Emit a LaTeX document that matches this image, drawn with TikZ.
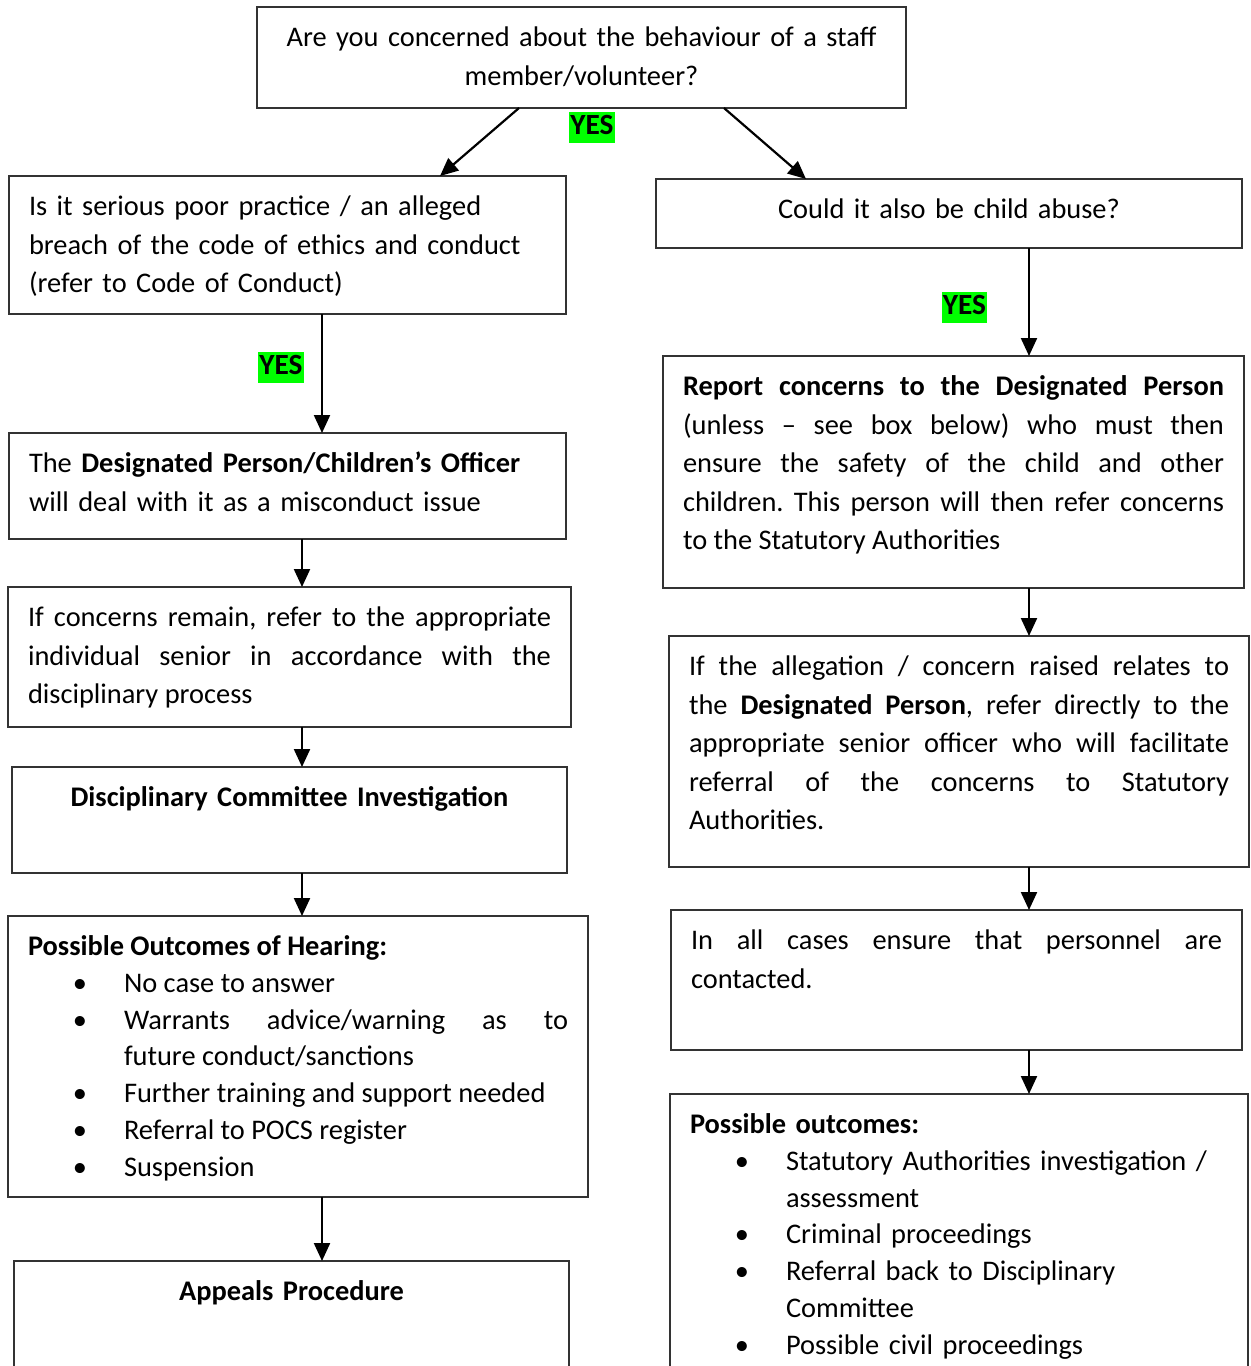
\documentclass[tikz,border=0pt]{standalone}
\usepackage{fontspec}
\setmainfont{Carlito}
\usepackage{enumitem}
\usetikzlibrary{arrows.meta}
\frenchspacing

\newcommand{\boxfont}{\fontsize{14.2}{19.3}\selectfont}
\newcommand{\listfont}{\fontsize{14.2}{18.4}\selectfont}

\tikzset{
  box/.style={draw=black!80, line width=0.8pt, anchor=north west, inner xsep=10pt,
    inner ysep=4pt, outer sep=0pt, text height=15.75pt, font=\boxfont},
  flow/.style={-{Triangle[length=9pt,width=8pt]}, line width=1.1pt},
  yes/.style={fill=green, font=\fontsize{14.65}{19.3}\selectfont\bfseries, inner xsep=0.5pt,
    inner ysep=0pt, text height=11.3pt, text depth=4.2pt}
}

\begin{document}
\begin{tikzpicture}[x=0.5pt, y=-0.5pt]
    \useasboundingbox (0,0) rectangle (1250,1366);
    \clip (0,0) rectangle (1250,1366);

    % top question
    \node[box, text width=304.5pt, align=center, text depth=26.75pt] (q) at (257,7)
      {Are you concerned about the behaviour of a staff\\ member/volunteer?};

    % left column
    \node[box, text width=258.5pt, align=left, text depth=45.25pt] (serious) at (9,176)
      {Is it serious poor practice / an alleged\\ breach of the code of ethics and conduct\\ (refer to Code of Conduct)};
    \node[box, text width=258.5pt, align=left, text depth=29.25pt] (dp) at (9,433)
      {The \textbf{Designated Person/Children’s Officer}\\ will deal with it as a misconduct issue};
    \node[box, text width=261.5pt, align=justify, text depth=46.25pt] (remain) at (8,587)
      {If concerns remain, refer to the appropriate\linebreak individual senior in accordance with the\linebreak disciplinary process};
    \node[box, text width=257.5pt, align=center, text depth=29.25pt] (invest) at (12,767)
      {\textbf{Disciplinary Committee Investigation}};
    \node[box, text width=270pt, align=justify, text depth=116.75pt, font=\listfont] (hearing) at (8,916)
      {\textbf{Possible Outcomes of Hearing:}
      \begin{itemize}[label=\textbullet, leftmargin=48pt, labelsep=18.5pt, nosep]
        \item No case to answer
        \item Warrants advice/warning as to\linebreak future conduct/sanctions
        \item Further training and support needed
        \item Referral to POCS register
        \item Suspension
      \end{itemize}};
    \node[box, text width=257.5pt, align=center, text depth=45.75pt] (appeals) at (14,1261)
      {\textbf{Appeals Procedure}};

    % right column
    \node[box, text width=273pt, align=center, text depth=10.75pt] (abuse) at (656,179)
      {Could it also be child abuse?};
    \node[box, text width=270.5pt, align=justify, text depth=92.25pt] (report) at (663,356)
      {\textbf{Report concerns to the Designated Person}\linebreak (unless – see box below) who must then\linebreak ensure the safety of the child and other\linebreak children. This person will then refer concerns\linebreak to the Statutory Authorities};
    \node[box, text width=270pt, align=justify, text depth=91.75pt] (alleg) at (669,636)
      {If the allegation / concern raised relates to\linebreak the \textbf{Designated Person}, refer directly to the\linebreak appropriate senior officer who will facilitate\linebreak referral of the concerns to Statutory\linebreak Authorities.};
    \node[box, text width=265.5pt, align=justify, text depth=46.25pt] (cases) at (671,910)
      {In all cases ensure that personnel are\linebreak contacted.};
    \node[box, text width=269pt, align=left, text depth=129.25pt, font=\listfont] (outcomes) at (670,1094)
      {\textbf{Possible outcomes:}
      \begin{itemize}[label=\textbullet, leftmargin=48pt, labelsep=18.5pt, nosep]
        \item Statutory Authorities investigation /\\ assessment
        \item Criminal proceedings
        \item Referral back to Disciplinary\\ Committee
        \item Possible civil proceedings
      \end{itemize}};

    % arrow columns
    \coordinate (qa) at (519,0);
    \coordinate (qb) at (724,0);
    \coordinate (sa) at (440,0);
    \coordinate (ab) at (806,0);
    \coordinate (lc) at (302,0);
    \coordinate (lcc) at (322,0);
    \coordinate (rc) at (1029,0);

    \draw[flow] (q.south -| qa) -- (serious.north -| sa);
    \draw[flow] (q.south -| qb) -- (abuse.north -| ab);
    \draw[flow] (serious.south -| lcc) -- (dp.north -| lcc);
    \draw[flow] (dp.south -| lc) -- (remain.north -| lc);
    \draw[flow] (remain.south -| lc) -- (invest.north -| lc);
    \draw[flow] (invest.south -| lc) -- (hearing.north -| lc);
    \draw[flow] (hearing.south -| lcc) -- (appeals.north -| lcc);
    \draw[flow] (abuse.south -| rc) -- (report.north -| rc);
    \draw[flow] (report.south -| rc) -- (alleg.north -| rc);
    \draw[flow] (alleg.south -| rc) -- (cases.north -| rc);
    \draw[flow] (cases.south -| rc) -- (outcomes.north -| rc);

    % YES labels
    \node[yes] (yes1) at (592,127.5) {YES};
    \node[yes] (yes2) at (281,367.5) {YES};
    \node[yes] (yes3) at (964.5,307) {YES};
\end{tikzpicture}
\end{document}
